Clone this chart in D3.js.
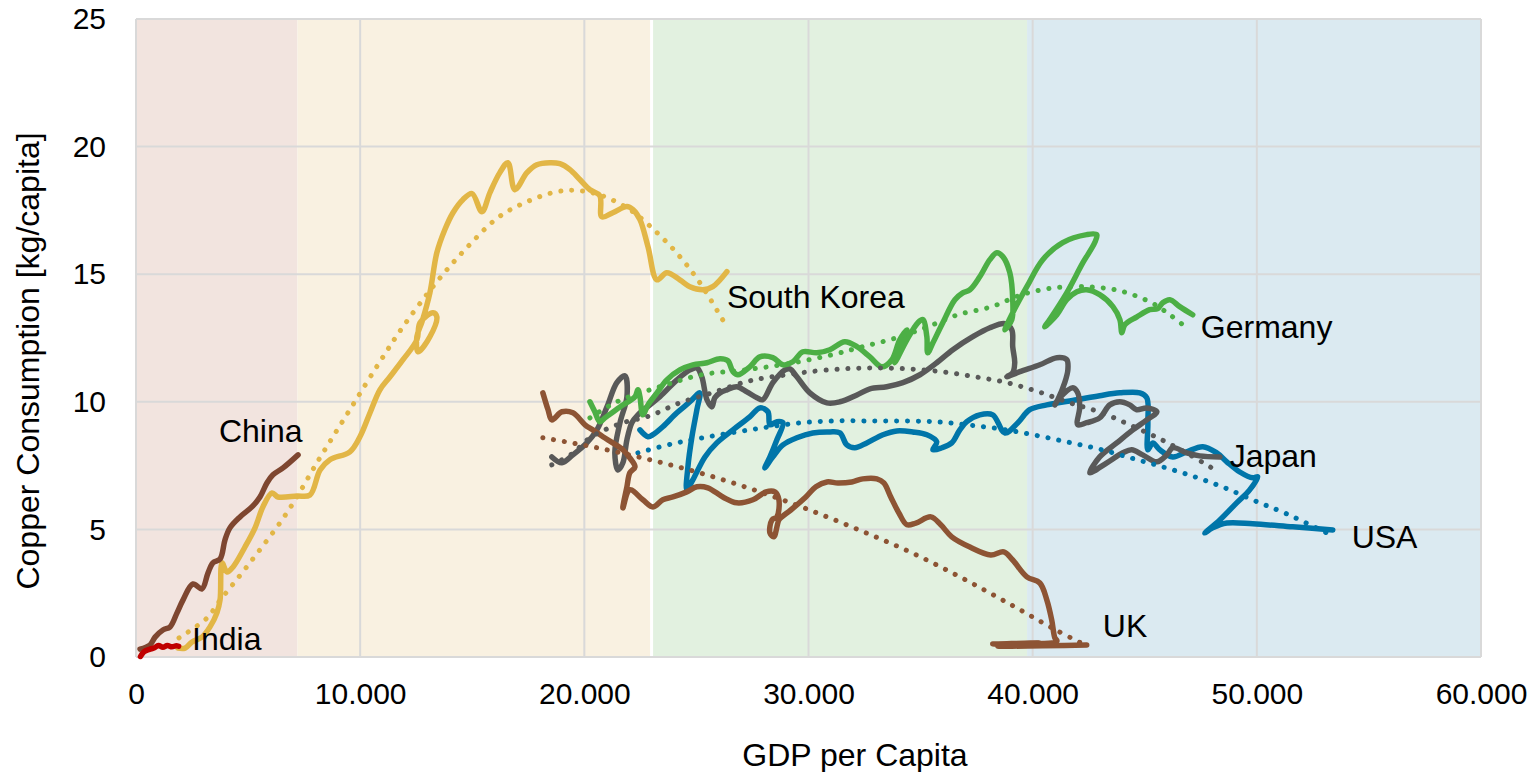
<!DOCTYPE html>
<html>
<head>
<meta charset="utf-8">
<script src="https://cdn.jsdelivr.net/npm/d3@7"></script>
<style>
  html, body { margin: 0; padding: 0; background: #ffffff; }
  svg { display: block; font-family: "Liberation Sans", Arial, sans-serif; }
</style>
</head>
<body>
<svg id="chart" width="1540" height="772"></svg>
<script>
// ---- Data: [GDP per capita, copper consumption kg/capita] ----
const india = [[200,0.02],[350,0.2],[600,0.3],[800,0.35],[1000,0.45],[1200,0.38],[1400,0.45],[1600,0.4],[1800,0.44],[1900,0.42]];

const china = [[180,0.31],[620,0.47],[850,0.78],[1200,1.06],[1520,1.18],[1830,1.73],[2100,2.24],[2540,2.86],[2940,2.67],
  [3210,3.29],[3430,3.69],[3750,3.84],[3970,4.59],[4190,5.06],[4640,5.49],[5170,5.88],[5530,6.27],[5840,6.82],[6110,7.14],
  [6560,7.41],[7230,7.92]];

const southKorea = [[1870,0.35],[2190,0.35],[2500,0.59],[2940,0.78],[3300,1.18],[3610,1.73],[3750,2.24],[3840,3.69],[4060,3.33],
  [4330,3.53],[4860,4.31],[5310,5.06],[5660,5.88],[6070,6.43],[6330,6.27],[7180,6.31],[7760,6.35],[8210,7.33],[8650,7.73],
  [9540,8.04],[9990,8.63],[10440,9.57],[10880,10.47],[11330,10.98],[11910,11.65],[12530,12.43],[12670,13.1],[13250,13.49],
  [13420,13.33],[13110,12.55],[12580,11.96],[12530,12.55],[12760,13.14],[13110,14.27],[13420,15.84],[13780,16.75],
  [14140,17.41],[14580,17.92],[14990,18.16],[15430,17.45],[15790,18.2],[16230,18.98],[16590,19.37],[16900,18.31],
  [17440,18.98],[17880,19.29],[18460,19.37],[18910,19.33],[19360,19.1],[19800,18.71],[20250,18.31],[20690,18.08],
  [20780,17.25],[21270,17.41],[21900,17.65],[22170,17.53],[22480,17.14],[22840,16.08],[23240,14.78],[23680,15.06],
  [24260,14.78],[24710,14.51],[25290,14.39],[25730,14.51],[26360,15.1]];
const southKoreaTrend = [[1920,0.75],[3170,1.53],[3700,2.16],[5000,3.6],[6730,5.65],[8200,7.8],[9540,9.69],[10880,11.57],
  [11910,12.94],[13420,14.7],[14760,16.04],[16150,17.22],[17440,17.84],[18820,18.24],[19800,18.27],[20780,18.08],
  [22030,17.53],[23240,16.63],[24260,15.69],[25150,14.67],[26220,13.14]];

const uk = [[18150,10.35],[18380,9.69],[18550,9.29],[19000,9.61],[19490,9.57],[20030,9.1],[20380,8.9],[20830,8.63],
  [21270,8.39],[21720,8.12],[22030,7.8],[22260,7.45],[22030,7.22],[21900,6.67],[21720,5.84],[22030,6.55],[22610,6.16],
  [23060,5.88],[23500,6.16],[23950,6.27],[24570,6.47],[25020,6.67],[25510,6.63],[26180,6.27],[26800,6.04],[27520,6.16],
  [28100,6.47],[28500,6.47],[28680,6.16],[28590,5.49],[28370,5.37],[28280,4.86],[28450,4.71],[28680,5.37],[28810,5.49],
  [29210,5.76],[29880,6.27],[30330,6.67],[30820,6.86],[31310,6.82],[31930,6.86],[32420,6.98],[33050,6.98],[33360,6.82],
  [33670,6.27],[34030,5.65],[34390,5.18],[34790,5.25],[35460,5.49],[35900,5.18],[36390,4.71],[37200,4.31],[38130,4.0],
  [38710,4.12],[39110,3.8],[39740,3.14],[40320,2.9],[40630,2.24],[40850,1.45],[40990,0.75],[41080,0.63],[38220,0.51],
  [40320,0.55],[38450,0.43],[42410,0.47]];
const ukTrend = [[18150,8.59],[20560,8.2],[22920,7.73],[25290,7.18],[27700,6.51],[29930,5.8],[32250,4.98],[34520,4.12],
  [36750,3.14],[38890,2.12],[41030,1.06],[42330,0.47]];

const japan = [[18550,7.84],[19000,7.61],[19490,7.92],[20110,8.39],[20560,8.9],[21010,9.8],[21450,10.75],[21810,11.02],
  [21900,10.2],[21590,9.18],[21360,8.0],[21500,7.33],[21720,7.61],[21900,8.51],[22120,9.18],[22390,9.49],[23370,10.2],
  [24130,10.86],[24710,11.25],[25020,11.33],[25240,10.98],[25470,10.08],[25690,9.8],[25820,10.16],[26050,10.35],
  [26360,10.47],[26800,10.59],[27250,10.39],[27700,10.16],[27960,10.08],[28410,10.75],[28950,11.25],[29170,11.29],
  [29480,10.98],[30060,10.35],[30820,9.96],[31400,10.0],[32160,10.27],[32740,10.51],[33490,10.59],[34210,10.75],
  [34970,11.06],[35720,11.53],[36440,12.04],[37330,12.55],[38090,12.9],[38760,13.06],[39070,12.82],[39110,12.16],
  [39200,11.53],[39110,11.14],[38850,10.98],[39430,11.18],[40320,11.45],[41080,11.73],[41520,11.65],[41570,11.25],
  [41430,10.75],[41120,10.08],[40990,9.88],[41210,10.16],[41790,10.55],[42010,10.35],[42100,9.8],[42010,9.1],
  [42410,9.18],[42990,9.37],[43440,9.88],[43890,10.0],[44330,9.88],[44640,9.69],[45090,9.76],[45540,9.61],[45090,9.29],
  [44470,8.9],[43750,8.39],[42990,7.84],[42550,7.22],[43310,7.61],[44020,8.0],[44420,8.12],[44910,7.92],[45540,7.65],
  [45980,7.92],[46250,8.2],[46870,8.0],[47450,7.88],[48350,7.84]];
const japanTrend = [[18550,7.53],[19450,7.96],[20250,8.59],[21590,9.14],[22920,9.45],[24260,9.96],[25690,10.35],
  [27070,10.75],[28050,10.94],[29080,11.06],[30060,11.18],[31530,11.29],[32960,11.33],[34430,11.29],[35950,11.18],
  [37420,10.98],[38850,10.75],[40270,10.39],[41660,9.96],[43080,9.57],[44420,9.06],[45760,8.51],[47010,7.92],[47990,7.41]];

const usa = [[22480,8.9],[22840,8.63],[23060,8.71],[23500,9.02],[24130,9.57],[24710,10.0],[25150,10.35],[25020,9.69],
  [24800,8.63],[24620,7.45],[24570,6.55],[24840,6.94],[25380,7.84],[25910,8.39],[26630,8.9],[27380,9.41],[27830,9.76],
  [28190,9.61],[28280,9.1],[28590,9.22],[28860,9.18],[28590,8.51],[28280,7.84],[28050,7.41],[28410,7.84],[28860,8.31],
  [29480,8.59],[30190,8.78],[30950,8.82],[31400,8.78],[31710,8.31],[32070,8.2],[32600,8.39],[33320,8.71],[33940,8.86],
  [34650,8.82],[35280,8.71],[35720,8.43],[35550,8.12],[35950,8.2],[36390,8.39],[36750,8.9],[37060,9.22],[37640,9.49],
  [38220,9.49],[38760,8.78],[39340,9.18],[39870,9.69],[40630,9.88],[41970,10.08],[42990,10.24],[43890,10.35],
  [44780,10.35],[45090,10.16],[45140,9.18],[45140,8.12],[45360,8.39],[45670,8.12],[46250,7.84],[46870,8.04],
  [47590,8.24],[48210,8.0],[48660,7.65],[49240,7.25],[49820,7.02],[50040,7.06],[49680,6.55],[49100,6.04],[48350,5.37],
  [47680,4.86],[48030,5.06],[48660,5.25],[49820,5.22],[51600,5.1],[53390,4.98]];
const usaTrend = [[22390,8.0],[23910,8.35],[25290,8.59],[26800,8.82],[28280,9.02],[29700,9.18],[31180,9.25],[32650,9.25],
  [34160,9.25],[35640,9.22],[37060,9.1],[38530,8.94],[40010,8.71],[41520,8.43],[42910,8.16],[44380,7.8],[45800,7.45],
  [47230,7.06],[48570,6.63],[49910,6.12],[51330,5.61],[53120,4.86]];

const germany = [[20250,10.0],[20470,9.61],[20690,9.22],[20920,9.37],[21590,9.8],[22260,10.2],[22390,10.47],[22480,10.2],
  [22610,9.49],[22840,9.88],[23240,10.35],[23680,10.86],[24260,11.25],[24840,11.45],[25470,11.53],[26050,11.69],
  [26400,11.61],[26630,11.18],[26850,11.06],[27380,11.37],[27830,11.76],[28410,11.73],[28860,11.45],[29300,11.57],
  [29750,11.96],[30370,11.92],[30950,12.04],[31620,12.35],[32160,12.16],[32740,11.76],[33270,11.37],[33720,11.65],
  [34070,12.43],[34390,12.82],[34160,12.31],[33850,11.53],[34390,12.43],[34880,13.1],[35100,13.22],[35280,12.55],
  [35320,11.92],[35550,12.31],[35990,13.1],[36530,14.0],[36880,14.27],[37200,14.39],[37640,14.9],[38090,15.57],
  [38400,15.84],[38670,15.69],[38980,15.06],[39110,14.0],[39070,13.22],[38760,12.82],[39110,13.49],[39740,14.51],
  [40450,15.57],[41340,16.24],[42410,16.55],[42860,16.55],[42770,16.24],[42240,15.45],[41520,14.27],[40760,13.22],
  [40540,12.94],[41080,13.41],[41520,14.0],[41970,14.31],[42410,14.39],[42990,14.2],[43580,13.73],[43890,13.22],
  [43980,12.71],[44110,13.02],[44650,13.33],[45220,13.61],[45580,13.65],[45800,13.88],[46120,14.0],[46560,13.73],
  [47140,13.41]];
const germanyTrend = [[20250,9.37],[21450,10.0],[23370,10.59],[25240,11.06],[27160,11.25],[29080,11.49],[31040,11.84],
  [32420,12.16],[33940,12.51],[35320,12.94],[36660,13.41],[38180,13.73],[39520,14.2],[40990,14.47],[42410,14.51],
  [43890,14.35],[45310,13.88],[46120,13.41],[46870,12.9]];

// Income-level bands along the GDP axis
const bandStarts = [0, 7200, 23000, 39750];
const bandEnds   = [7200, 23000, 39750, 60000];
const bandColors = ["#F2E4DF", "#F9F1E1", "#E2F1E0", "#DBEAF1"];

// Axis ticks
const xTicks = [0, 10000, 20000, 30000, 40000, 50000, 60000];
const yTicks = [0, 5, 10, 15, 20, 25];

// Series styling and labels
const seriesData   = [usa, japan, germany, southKorea, china, india, uk];
const seriesTrends = [usaTrend, japanTrend, germanyTrend, southKoreaTrend, null, null, ukTrend];
const seriesColors = ["#0075A9", "#595959", "#4CAF45", "#E2B646", "#7E4630", "#C00000", "#8D5434"];
const labelNames = ["China", "India", "South Korea", "Germany", "Japan", "USA", "UK"];
const labelAnchors = [[3700, 8.43], [2500, 0.27], [26360, 13.69], [47500, 12.51], [48790, 7.45], [54230, 4.27], [43130, 0.78]];

// ---- Chart ----
const svg = d3.select("#chart");
const x = d3.scaleLinear().domain([0, 60000]).range([136, 1481]);
const y = d3.scaleLinear().domain([0, 25]).range([657, 19]);
const fmt = d3.formatLocale({ decimal: ",", thousands: ".", grouping: [3], currency: ["", ""] }).format(",");

// background bands
svg.append("g").selectAll("rect")
  .data(bandStarts)
  .join("rect")
  .attr("x", (d, i) => x(d) + (i === 2 ? 1.5 : 0))
  .attr("y", y(25))
  .attr("width", (d, i) => x(bandEnds[i]) - x(d) - (i === 1 ? 1.5 : 0) - (i === 2 ? 1.5 : 0))
  .attr("height", y(0) - y(25))
  .attr("fill", (d, i) => bandColors[i]);

// gridlines
const grid = svg.append("g").attr("stroke", "#D9D9D9").attr("stroke-width", 2);
grid.selectAll("line.v").data(xTicks).join("line").attr("class", "v")
  .attr("x1", d => x(d)).attr("x2", d => x(d)).attr("y1", y(0)).attr("y2", y(25));
grid.selectAll("line.h").data(yTicks).join("line").attr("class", "h")
  .attr("x1", x(0)).attr("x2", x(60000)).attr("y1", d => y(d)).attr("y2", d => y(d));

// axes (labels only)
const xAxis = svg.append("g").attr("transform", `translate(0,${y(0)})`)
  .call(d3.axisBottom(x).tickValues(xTicks).tickFormat(fmt).tickSize(0).tickPadding(0));
xAxis.select(".domain").remove();
xAxis.selectAll("text").attr("font-size", 30).attr("fill", "#000").attr("dy", null).attr("y", 47)
  .attr("font-family", "Liberation Sans, Arial, sans-serif");

const yAxis = svg.append("g").attr("transform", `translate(106,0)`)
  .call(d3.axisLeft(y).tickValues(yTicks).tickFormat(d3.format("d")).tickSize(0).tickPadding(0));
yAxis.select(".domain").remove();
yAxis.selectAll("text").attr("font-size", 30).attr("fill", "#000").attr("x", 0)
  .attr("font-family", "Liberation Sans, Arial, sans-serif");

// axis titles
svg.append("text").attr("x", 855).attr("y", 766).attr("text-anchor", "middle")
  .attr("font-size", 32).attr("fill", "#000").text("GDP per Capita");
svg.append("text").attr("transform", "translate(39,361) rotate(-90)").attr("text-anchor", "middle")
  .attr("font-size", 32).attr("fill", "#000").text("Copper Consumption [kg/capita]");

// series lines
const line = d3.line().x(d => x(d[0])).y(d => y(d[1])).curve(d3.curveCatmullRom.alpha(0.5));
const lines = svg.append("g").attr("fill", "none").attr("stroke-linejoin", "round").attr("stroke-linecap", "round");
seriesData.forEach((data, i) => {
  lines.append("path").datum(data).attr("d", line)
    .attr("stroke", seriesColors[i]).attr("stroke-width", 5.5);
});

// dotted trend lines
const trends = svg.append("g").attr("fill", "none").attr("stroke-linecap", "round");
seriesTrends.forEach((data, i) => {
  if (!data) return;
  trends.append("path").datum(data).attr("d", line)
    .attr("stroke", seriesColors[i]).attr("stroke-width", 5).attr("stroke-dasharray", "0.1 10.8");
});

// series labels
svg.append("g").selectAll("text").data(labelNames).join("text")
  .attr("x", (d, i) => x(labelAnchors[i][0]))
  .attr("y", (d, i) => y(labelAnchors[i][1]))
  .attr("font-size", 32).attr("fill", "#000")
  .text(d => d);
</script>
</body>
</html>
